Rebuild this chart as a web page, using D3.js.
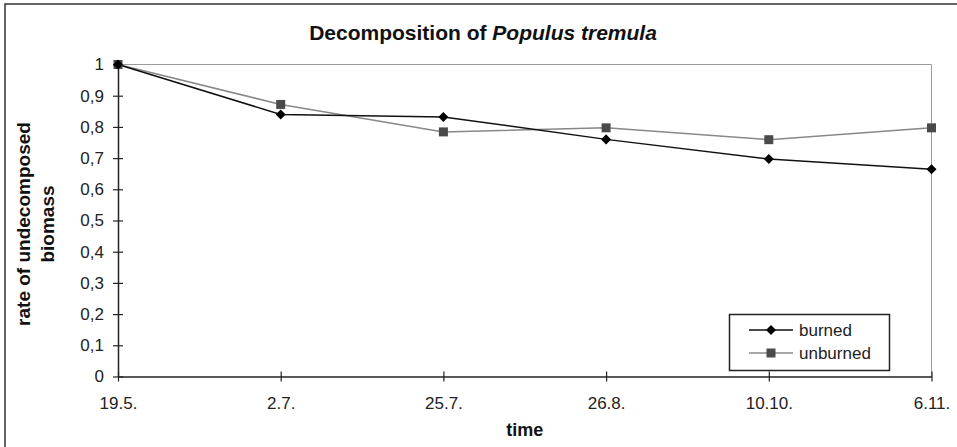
<!DOCTYPE html>
<html>
<head>
<meta charset="utf-8">
<script src="https://cdn.jsdelivr.net/npm/d3@7"></script>
<style>
  body { margin: 0; background: #fff; }
  svg { display: block; font-family: "Liberation Sans", Arial, sans-serif; }
</style>
</head>
<body>
<div id="chart"></div>
<script>
// Dati
const dates = ['19.5.', '2.7.', '25.7.', '26.8.', '10.10.', '6.11.'];
const burned = [1, 0.84, 0.832, 0.76, 0.697, 0.664];
const unburned = [1, 0.872, 0.784, 0.797, 0.759, 0.797];
const yTicks = [0, 0.1, 0.2, 0.3, 0.4, 0.5, 0.6, 0.7, 0.8, 0.9, 1];

const width = 957;
const height = 447;
const margin = { top: 64.5, right: 25, bottom: 70.5, left: 118 };

const chart = d3.select('#chart')
    .append('svg')
    .attr('width', width)
    .attr('height', height);

// Outer frame
chart.append('rect')
    .attr('x', 5)
    .attr('y', 4)
    .attr('width', width + 10)
    .attr('height', height + 10)
    .attr('fill', 'none')
    .attr('stroke', '#333')
    .attr('stroke-width', 1.5);

const x = d3.scalePoint()
    .domain(dates)
    .range([margin.left, width - margin.right - 0.5]);

const y = d3.scaleLinear()
    .domain([0, 1])
    .range([height - margin.bottom, margin.top]);

// Plot frame (top and right in gray)
chart.append('path')
    .attr('d', `M${x.range()[0]},${y(1)}H${x.range()[1]}V${y(0)}`)
    .attr('fill', 'none')
    .attr('stroke', '#9a9a9a')
    .attr('stroke-width', 1);

// Y axis
const yAxis = chart.append('g')
    .attr('transform', `translate(${margin.left},0)`)
    .call(d3.axisLeft(y).tickValues(yTicks).tickSize(0).tickPadding(14)
        .tickFormat(d => d3.format('.1~f')(d).replace('.', ',')));
yAxis.select('.domain').attr('stroke', '#222').attr('stroke-width', 1.5);
yAxis.selectAll('.tick line').attr('x1', -5).attr('x2', 5).attr('stroke', '#222').attr('stroke-width', 1.2);
yAxis.selectAll('.tick text').attr('font-size', 17).attr('fill', '#222');

// X axis
const xAxis = chart.append('g')
    .attr('transform', `translate(0,${y(0)})`)
    .call(d3.axisBottom(x).tickSize(0).tickPadding(20));
xAxis.select('.domain').attr('stroke', '#222').attr('stroke-width', 1.5);
xAxis.selectAll('.tick line').attr('y1', -5).attr('y2', 5).attr('stroke', '#222').attr('stroke-width', 1.2);
xAxis.selectAll('.tick text').attr('font-size', 17).attr('fill', '#222');

// Title
const title = chart.append('text')
    .attr('x', 483)
    .attr('y', 40)
    .attr('text-anchor', 'middle')
    .attr('font-size', 21)
    .attr('font-weight', 'bold')
    .attr('fill', '#111');
title.append('tspan').text('Decomposition of ');
title.append('tspan').attr('font-style', 'italic').text('Populus tremula');

// Axis labels
chart.append('text')
    .attr('x', (x.range()[0] + x.range()[1]) / 2)
    .attr('y', 436)
    .attr('text-anchor', 'middle')
    .attr('font-size', 18)
    .attr('font-weight', 'bold')
    .attr('fill', '#111')
    .text('time');

const yLabel = chart.append('text')
    .attr('transform', 'translate(30,224) rotate(-90)')
    .attr('text-anchor', 'middle')
    .attr('font-size', 19)
    .attr('font-weight', 'bold')
    .attr('fill', '#111');
yLabel.append('tspan').attr('x', 0).attr('dy', 0).text('rate of undecomposed');
yLabel.append('tspan').attr('x', 0).attr('dy', 24).text('biomass');

// Lines
const line = d3.line()
    .x((d, i) => x(dates[i]))
    .y(d => y(d));

chart.append('path')
    .datum(unburned)
    .attr('d', line)
    .attr('fill', 'none')
    .attr('stroke', '#888')
    .attr('stroke-width', 1.5);

chart.append('path')
    .datum(burned)
    .attr('d', line)
    .attr('fill', 'none')
    .attr('stroke', '#111')
    .attr('stroke-width', 1.5);

const diamond = d3.symbol().type(d3.symbolDiamond2).size(64);
const square = d3.symbol().type(d3.symbolSquare).size(81);

chart.append('g').selectAll('path')
    .data(unburned)
    .join('path')
    .attr('transform', (d, i) => `translate(${x(dates[i])},${y(d)})`)
    .attr('d', square)
    .attr('fill', '#4a4a4a');

chart.append('g').selectAll('path')
    .data(burned)
    .join('path')
    .attr('transform', (d, i) => `translate(${x(dates[i])},${y(d)})`)
    .attr('d', diamond)
    .attr('fill', '#000');

// Legend
const legend = chart.append('g');
legend.append('rect')
    .attr('x', 729.5)
    .attr('y', 314.5)
    .attr('width', 160)
    .attr('height', 56)
    .attr('fill', '#fff')
    .attr('stroke', '#222')
    .attr('stroke-width', 1.5);

const legendItems = [
    { name: 'burned', color: '#111', marker: diamond, markerColor: '#000', y: 330 },
    { name: 'unburned', color: '#888', marker: square, markerColor: '#4a4a4a', y: 353 }
];
legendItems.forEach(item => {
    legend.append('line')
        .attr('x1', 749).attr('x2', 793)
        .attr('y1', item.y).attr('y2', item.y)
        .attr('stroke', item.color)
        .attr('stroke-width', 1.5);
    legend.append('path')
        .attr('transform', `translate(771,${item.y})`)
        .attr('d', item.marker)
        .attr('fill', item.markerColor);
    legend.append('text')
        .attr('x', 799)
        .attr('y', item.y)
        .attr('dy', '0.35em')
        .attr('font-size', 17)
        .attr('fill', '#222')
        .text(item.name);
});
</script>
</body>
</html>
